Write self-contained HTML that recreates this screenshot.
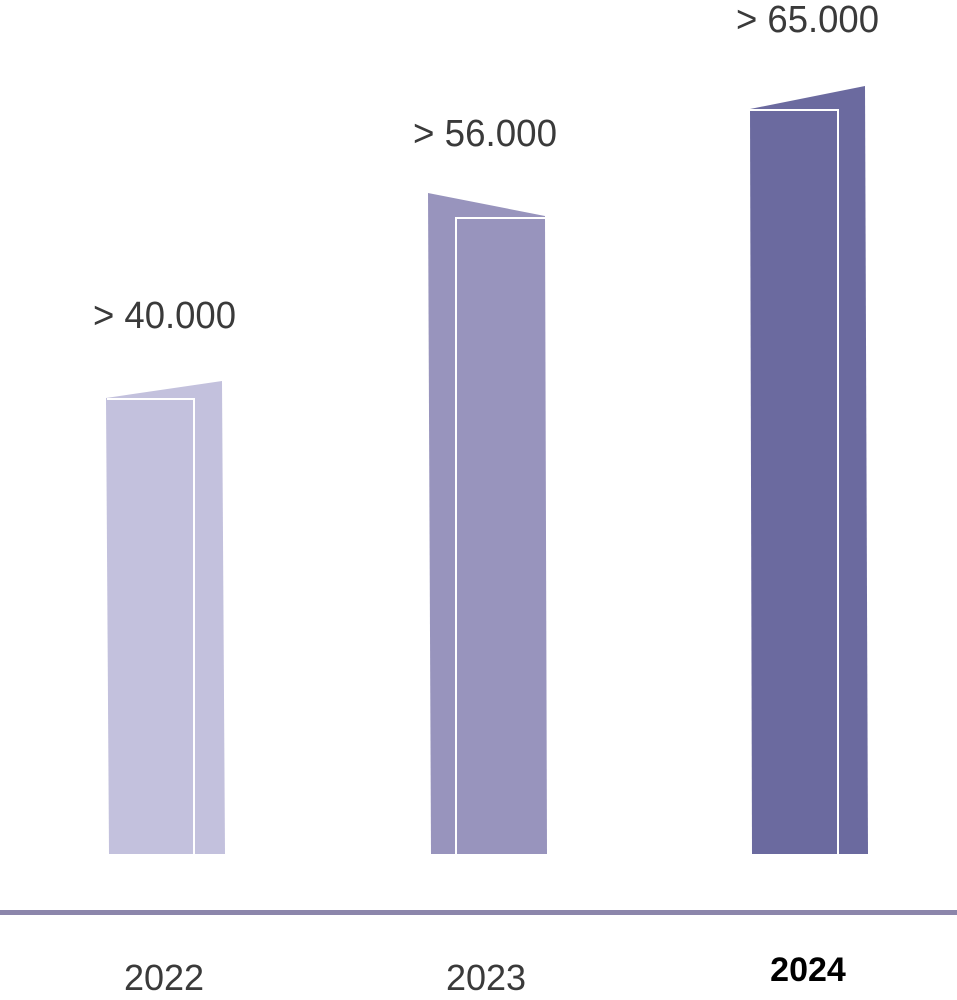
<!DOCTYPE html>
<html><head><meta charset="utf-8"><style>html,body{margin:0;padding:0;background:#fff}svg{display:block}</style></head>
<body>
<svg width="957" height="1000" viewBox="0 0 957 1000" xmlns="http://www.w3.org/2000/svg">
<polygon points="106,398 222,381 225,854 109,854" fill="#c3c1dd"/>
<polyline points="107,399 194,399 194,854" fill="none" stroke="#fff" stroke-width="2"/>
<polygon points="428,193 545,216 547,854 431,854" fill="#9894bd"/>
<polyline points="545,218 456,218 456,854" fill="none" stroke="#fff" stroke-width="2"/>
<polygon points="750,109 865,86 868,854 752,854" fill="#6b6a9f"/>
<polyline points="750,110 838,110 838,854" fill="none" stroke="#fff" stroke-width="2"/>
<rect x="0" y="910" width="957" height="5" fill="#8c86ab"/>
<g font-family="Liberation Sans, sans-serif" fill="#3a3a3a" font-size="38">
<text x="93" y="328" textLength="143" lengthAdjust="spacingAndGlyphs">&gt; 40.000</text>
<text x="413" y="146" textLength="144" lengthAdjust="spacingAndGlyphs">&gt; 56.000</text>
<text x="736" y="32" textLength="143" lengthAdjust="spacingAndGlyphs">&gt; 65.000</text>
<text x="164" y="990" text-anchor="middle" font-size="36">2022</text>
<text x="486" y="990" text-anchor="middle" font-size="36">2023</text>
<text x="808" y="981" text-anchor="middle" font-size="34" font-weight="bold" fill="#000">2024</text>
</g>
</svg>
</body></html>
